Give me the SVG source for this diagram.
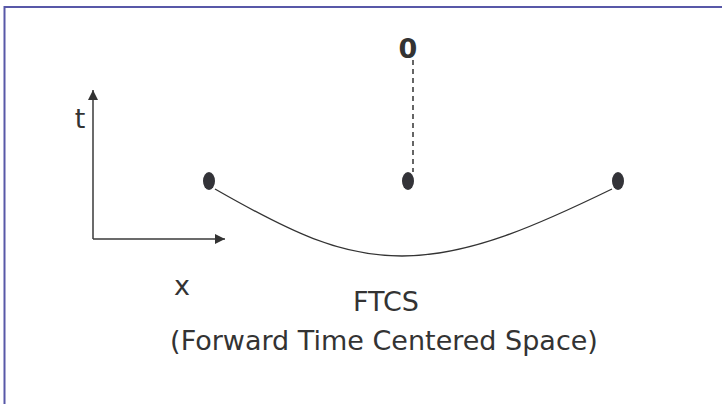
<svg xmlns="http://www.w3.org/2000/svg" width="722" height="404" viewBox="0 0 722 404">
<defs>
<style>
.lbl{font-family:"DejaVu Sans","Liberation Sans",sans-serif;fill:#333;font-size:27px}
.ax{stroke:#3a3a3a;stroke-width:1.5;fill:none}
.dot{fill:#333338}
</style>
<marker id="ah" viewBox="0 0 10 10" refX="10" refY="5" markerWidth="10" markerHeight="10" markerUnits="userSpaceOnUse" orient="auto">
<path d="M0,0 L10,5 L0,10 z" fill="#333"/>
</marker>
</defs>
<rect x="0" y="0" width="722" height="404" fill="#fff"/>
<rect x="4.5" y="7" width="800" height="500" fill="none" stroke="#5858a8" stroke-width="2"/>
<g id="axes">
<line class="ax" x1="93" y1="239" x2="93" y2="90" marker-end="url(#ah)"/>
<line class="ax" x1="93" y1="239" x2="225" y2="239" marker-end="url(#ah)"/>
<text class="lbl" x="80" y="128" text-anchor="middle">t</text>
<text class="lbl" x="182" y="295" text-anchor="middle">x</text>
</g>
<g id="connectors">
<path d="M215,189 C290,232 340,256 402,256 C470,256 540,224 612,189" fill="none" stroke="#333" stroke-width="1.3"/>
<line x1="413" y1="60" x2="413" y2="172" stroke="#333" stroke-width="1.5" stroke-dasharray="5,4"/>
</g>
<g id="node-left"><ellipse class="dot" cx="209" cy="181" rx="6" ry="9"/></g>
<g id="node-center"><ellipse class="dot" cx="408" cy="181" rx="6" ry="9"/></g>
<g id="node-right"><ellipse class="dot" cx="618" cy="181" rx="6" ry="9"/></g>
<g id="node-top"><text class="lbl" x="408" y="58" text-anchor="middle" font-weight="bold" font-size="25">0</text></g>
<g id="caption">
<text class="lbl" x="386" y="311" text-anchor="middle">FTCS</text>
<text class="lbl" x="384" y="350" text-anchor="middle">(Forward Time Centered Space)</text>
</g>
</svg>
